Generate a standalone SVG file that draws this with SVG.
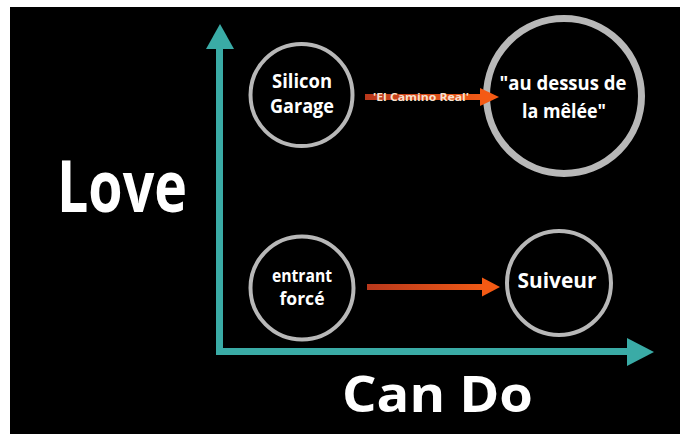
<svg xmlns="http://www.w3.org/2000/svg" width="680" height="434" viewBox="0 0 680 434">
  <defs>
    <style>
      .lbl { font-family: "Open Sans", "Liberation Sans", sans-serif; font-weight: 700; fill: #ffffff; text-anchor: middle; }
      .node circle { fill: #000000; stroke: #b8b8b8; }
      .axis { stroke: #3aaba6; stroke-width: 7; fill: none; }
      .axhead { fill: #3aaba6; }
      .flowhead { fill: #f45a14; }
    </style>
    <linearGradient id="orangeGradTop" gradientUnits="userSpaceOnUse" x1="365" y1="0" x2="482" y2="0">
      <stop offset="0" stop-color="#b8381c"/>
      <stop offset="1" stop-color="#f05a16"/>
    </linearGradient>
    <linearGradient id="orangeGradBot" gradientUnits="userSpaceOnUse" x1="367" y1="0" x2="484" y2="0">
      <stop offset="0" stop-color="#b8381c"/>
      <stop offset="1" stop-color="#f05a16"/>
    </linearGradient>
  </defs>

  <rect x="0" y="0" width="680" height="434" fill="#ffffff"/>
  <rect x="10" y="7" width="670" height="427" fill="#000000"/>

  <g id="node-silicon" class="node">
    <circle cx="301.5" cy="95" r="51" stroke-width="4"/>
    <text class="lbl" x="302" y="88" font-size="20" textLength="60" lengthAdjust="spacingAndGlyphs">Silicon</text>
    <text class="lbl" x="302" y="113" font-size="20" textLength="64" lengthAdjust="spacingAndGlyphs">Garage</text>
  </g>

  <g id="node-melee" class="node">
    <circle cx="564" cy="96" r="77.5" stroke-width="7"/>
    <text class="lbl" x="563" y="90" font-size="20" textLength="127" lengthAdjust="spacingAndGlyphs">"au dessus de</text>
    <text class="lbl" x="564" y="118" font-size="20" textLength="84" lengthAdjust="spacingAndGlyphs">la mêlée"</text>
  </g>

  <g id="node-entrant" class="node">
    <circle cx="302" cy="288" r="51.5" stroke-width="4"/>
    <text class="lbl" x="302" y="282" font-size="18" textLength="60" lengthAdjust="spacingAndGlyphs">entrant</text>
    <text class="lbl" x="302" y="305" font-size="18" textLength="45" lengthAdjust="spacingAndGlyphs">forcé</text>
  </g>

  <g id="node-suiveur" class="node">
    <circle cx="559" cy="283" r="52" stroke-width="4"/>
    <text class="lbl" x="557" y="288" font-size="21" textLength="79" lengthAdjust="spacingAndGlyphs">Suiveur</text>
  </g>

  <g id="connectors">
    <line class="axis" x1="219.5" y1="352" x2="219.5" y2="44"/>
    <polygon class="axhead" points="220,24 234,49 206,49"/>
    <line class="axis" x1="216" y1="351.5" x2="632" y2="351.5"/>
    <polygon class="axhead" points="654,352 627,338 627,366"/>

    <g id="edge-silicon-melee">
      <rect x="365" y="94" width="117" height="6" fill="url(#orangeGradTop)"/>
      <polygon class="flowhead" points="499,97 480,88 480,106"/>
      <text x="421" y="100.5" style="font-family: 'Open Sans', 'Liberation Sans', sans-serif; font-weight: 700; font-size: 10px; fill: #f6e0cf; text-anchor: middle;" textLength="96" lengthAdjust="spacingAndGlyphs">'El Camino Real'</text>
    </g>
    <g id="edge-entrant-suiveur">
      <rect x="367" y="284" width="117" height="6" fill="url(#orangeGradBot)"/>
      <polygon class="flowhead" points="500,287 482,277.5 482,296.5"/>
    </g>
  </g>

  <text class="lbl" x="122" y="212" font-size="72" textLength="130" lengthAdjust="spacingAndGlyphs">Love</text>
  <text class="lbl" x="437.5" y="412" font-size="50" textLength="191" lengthAdjust="spacingAndGlyphs">Can Do</text>
</svg>
